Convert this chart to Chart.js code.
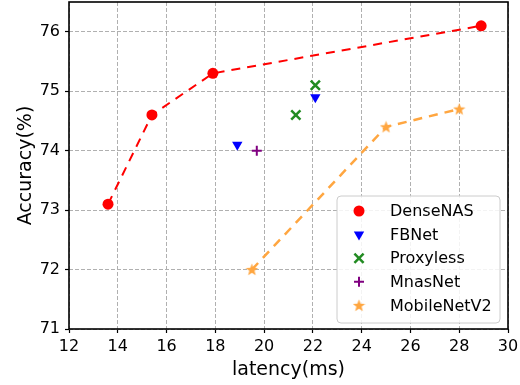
<!DOCTYPE html>
<html lang="en">
<head>
    <meta charset="UTF-8">
    <title>Accuracy vs latency</title>
    <script src="https://cdn.jsdelivr.net/npm/chart.js@4.4.0/dist/chart.umd.min.js"></script>
    <style>
        body { margin: 0; background: #fff; }
    </style>
</head>
<body>
    <canvas id="accChart" width="520" height="385"></canvas>

    <script>
        // values
        const denseLatency = [13.6, 15.4, 17.9, 28.9];
        const denseAcc = [73.1, 74.6, 75.3, 76.1];
        const fbnetLatency = [18.9, 22.1];
        const fbnetAcc = [74.1, 74.9];
        const proxyLatency = [21.3, 22.1];
        const proxyAcc = [74.6, 75.1];
        const mnasLatency = [19.7];
        const mnasAcc = [74.0];
        const mobileLatency = [19.5, 25.0, 28.0];
        const mobileAcc = [72.0, 74.4, 74.7];

        const xTicks = [12, 14, 16, 18, 20, 22, 24, 26, 28, 30];
        const yTicks = [71, 72, 73, 74, 75, 76];

        const font = 'DejaVu Sans';
        const orange = '#ffa640';

        function pts(xs, ys) {
            return xs.map((x, i) => ({ x: x, y: ys[i] }));
        }

        // filled five point star, like matplotlib's '*'
        function makeStar(size, color) {
            const c = document.createElement('canvas');
            c.width = size; c.height = size;
            const g = c.getContext('2d');
            const cx = size / 2, cy = size / 2 + 0.5;
            const R = size / 2, r = R * 0.42;
            g.beginPath();
            for (let i = 0; i < 10; i++) {
                const rad = i % 2 === 0 ? R : r;
                const a = -Math.PI / 2 + i * Math.PI / 5;
                const px = cx + rad * Math.cos(a), py = cy + rad * Math.sin(a);
                if (i === 0) g.moveTo(px, py); else g.lineTo(px, py);
            }
            g.closePath();
            g.fillStyle = color;
            g.fill();
            return c;
        }
        const star = makeStar(13, orange);

        const datasets = [
            {
                label: 'DenseNAS',
                data: pts(denseLatency, denseAcc),
                showLine: true,
                borderColor: '#ff0000',
                backgroundColor: '#ff0000',
                borderWidth: 2,
                borderDash: [9, 7],
                pointStyle: 'circle',
                pointRadius: 5.5,
                pointBorderWidth: 0
            },
            {
                label: 'FBNet',
                data: pts(fbnetLatency, fbnetAcc),
                borderColor: '#0000ff',
                backgroundColor: '#0000ff',
                pointStyle: 'triangle',
                pointRotation: 180,
                pointRadius: 6,
                pointBorderWidth: 0
            },
            {
                label: 'Proxyless',
                data: pts(proxyLatency, proxyAcc),
                borderColor: '#228b22',
                backgroundColor: '#228b22',
                pointStyle: 'crossRot',
                pointRadius: 6.5,
                pointBorderWidth: 2.5
            },
            {
                label: 'MnasNet',
                data: pts(mnasLatency, mnasAcc),
                borderColor: '#800080',
                backgroundColor: '#800080',
                pointStyle: 'cross',
                pointRadius: 5,
                pointBorderWidth: 2
            },
            {
                label: 'MobileNetV2',
                data: pts(mobileLatency, mobileAcc),
                showLine: true,
                borderColor: orange,
                backgroundColor: orange,
                borderWidth: 2.5,
                borderDash: [9, 7],
                pointStyle: star,
                pointRadius: 6
            }
        ];

        // frame around the plot plus the legend box in the lower right
        const framePlugin = {
            id: 'frame',
            afterDraw(chart) {
                const ctx = chart.ctx;
                const a = chart.chartArea;
                ctx.save();
                ctx.strokeStyle = '#000';
                ctx.lineWidth = 1.6;
                ctx.strokeRect(a.left, a.top, a.right - a.left, a.bottom - a.top);

                // legend
                const bx = 337, by = 196, bw = 163, bh = 127;
                ctx.beginPath();
                ctx.roundRect(bx, by, bw, bh, 4);
                ctx.fillStyle = 'rgba(255,255,255,0.85)';
                ctx.fill();
                ctx.strokeStyle = '#cccccc';
                ctx.lineWidth = 1;
                ctx.stroke();

                ctx.font = '16px "' + font + '"';
                ctx.textBaseline = 'middle';
                chart.data.datasets.forEach((ds, i) => {
                    const y = 211 + i * 23.6;
                    ctx.fillStyle = ds.backgroundColor;
                    ctx.strokeStyle = ds.borderColor;
                    ctx.lineWidth = ds.pointBorderWidth || 2;
                    ctx.setLineDash([]);
                    Chart.helpers.drawPoint(ctx, {
                        pointStyle: ds.pointStyle,
                        radius: ds.pointRadius,
                        rotation: ds.pointRotation || 0,
                        borderWidth: ds.pointBorderWidth || 0
                    }, 359, y);
                    ctx.fillStyle = '#000';
                    ctx.fillText(ds.label, 390, y + 1);
                });
                ctx.restore();
            }
        };

        const gridOpts = {
            color: '#b0b0b0',
            lineWidth: 1,
            tickColor: '#000',
            tickLength: 4,
            tickWidth: 1.2,
            tickBorderDash: [],
            drawTicks: true
        };

        const ctx = document.getElementById('accChart').getContext('2d');
        const accChart = new Chart(ctx, {
            type: 'scatter',
            data: { datasets: datasets },
            options: {
                animation: false,
                responsive: false,
                events: [],
                layout: { autoPadding: false, padding: { top: 2, right: 12, left: 0, bottom: 0 } },
                plugins: {
                    legend: { display: false },
                    tooltip: { enabled: false }
                },
                scales: {
                    x: {
                        type: 'linear',
                        min: 12,
                        max: 30,
                        afterBuildTicks: s => { s.ticks = xTicks.map(v => ({ value: v })); },
                        afterFit: s => {
                            s.height = 56;
                            s.paddingLeft = 0; s.paddingRight = 0;
                        },
                        border: { display: false, dash: [4, 2] },
                        grid: gridOpts,
                        ticks: {
                            color: '#000',
                            padding: 4,
                            maxRotation: 0,
                            font: { family: font, size: 16 }
                        },
                        title: {
                            display: true,
                            text: 'latency(ms)',
                            color: '#000',
                            font: { family: font, size: 19 },
                            padding: { top: 0, bottom: 4 }
                        }
                    },
                    y: {
                        type: 'linear',
                        min: 71,
                        max: 76.5,
                        afterBuildTicks: s => { s.ticks = yTicks.map(v => ({ value: v })); },
                        afterFit: s => {
                            s.width = 69;
                            s.paddingTop = 0; s.paddingBottom = 0;
                        },
                        border: { display: false, dash: [4, 2] },
                        grid: gridOpts,
                        ticks: {
                            color: '#000',
                            padding: 5,
                            font: { family: font, size: 16 }
                        },
                        title: {
                            display: true,
                            text: 'Accuracy(%)',
                            color: '#000',
                            font: { family: font, size: 19 },
                            padding: { top: 15, bottom: 0 }
                        }
                    }
                }
            },
            plugins: [framePlugin]
        });
    </script>
</body>
</html>
